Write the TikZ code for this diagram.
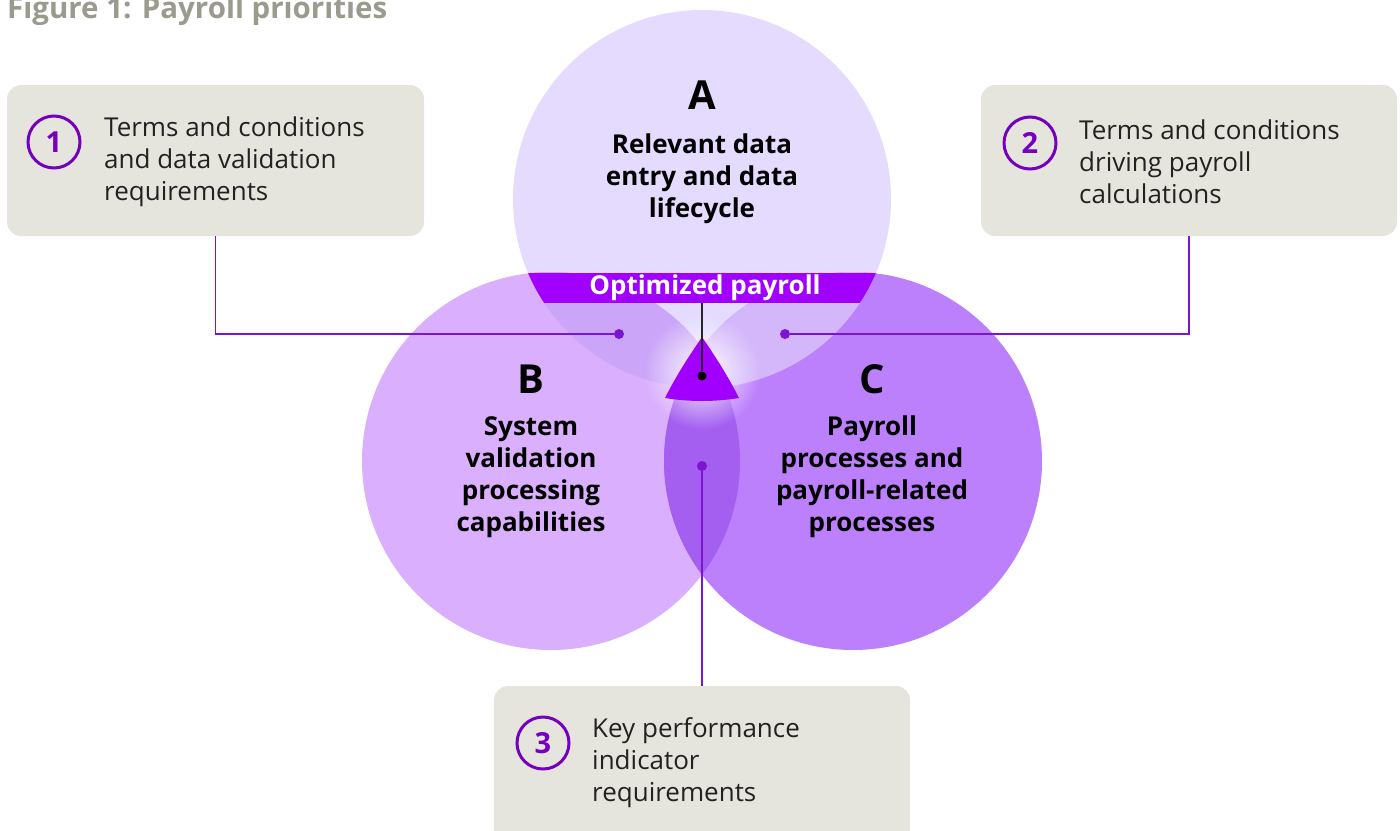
\documentclass[tikz,border=0pt]{standalone}
\usepackage{fontspec}
\setmainfont{Open Sans}
\usetikzlibrary{fadings}
\definecolor{cA}{HTML}{E4DBFF}
\definecolor{cB}{HTML}{DAB0FE}
\definecolor{cC}{HTML}{BD80FD}
\definecolor{cAB}{HTML}{CBA6F8}
\definecolor{cAC}{HTML}{D4B6FB}
\definecolor{cBC}{HTML}{A45EF0}
\definecolor{cABC}{HTML}{D8C2FA}
\definecolor{band}{HTML}{A100FF}
\definecolor{numpurple}{HTML}{7500C0}
\definecolor{connpurple}{HTML}{7D14D2}
\definecolor{boxfill}{HTML}{E6E5DD}
\definecolor{titlegray}{HTML}{9A9A8E}
\definecolor{bodytext}{HTML}{222222}
\tikzfading[name=glowfade, inner color=transparent!0, outer color=transparent!100]
\tikzset{
  box/.style={fill=boxfill, rounded corners=14pt, inner sep=0pt},
  numc/.style={circle, draw=numpurple, line width=3pt, minimum size=52pt, inner sep=0pt,
    text=numpurple, font=\fontsize{29}{29}\selectfont\bfseries},
  bodytxt/.style={anchor=west, align=left, inner sep=0pt, text=bodytext,
    font=\fontsize{26}{32}\selectfont},
  lettertxt/.style={inner sep=0pt, font=\fontsize{40}{40}\selectfont\bfseries},
  labeltxt/.style={inner sep=0pt, align=center, font=\fontsize{26}{32}\selectfont\bfseries},
  conn/.style={draw=connpurple, line width=1.6pt},
  pdot/.style={circle, fill=connpurple, minimum size=10pt, inner sep=0pt},
  bdot/.style={circle, fill=black, minimum size=10pt, inner sep=0pt},
}
\begin{document}
\begin{tikzpicture}[x=1pt,y=-1pt]
\useasboundingbox (0,0) rectangle (1400,830);
\clip (0,0) rectangle (1400,830);

% title
\node[anchor=base west, inner sep=0pt, text=titlegray, font=\fontsize{29.5}{30}\selectfont\bfseries] (title) at (7,18) {Figure 1: Payroll priorities};

% circles
\coordinate (A) at (702,199);
\coordinate (B) at (551,461);
\coordinate (C) at (853,461);
\fill[cA] (A) circle[radius=189pt];
\fill[cB] (B) circle[radius=189pt];
\fill[cC] (C) circle[radius=189pt];
\begin{scope}
  \clip (A) circle[radius=189pt];
  \fill[cAB] (B) circle[radius=189pt];
  \fill[cAC] (C) circle[radius=189pt];
\end{scope}
\begin{scope}
  \clip (B) circle[radius=189pt];
  \fill[cBC] (C) circle[radius=189pt];
\end{scope}
\begin{scope}
  \clip (A) circle[radius=189pt];
  \clip (B) circle[radius=189pt];
  \fill[cABC] (C) circle[radius=189pt];
\end{scope}

% glow
\fill[white, path fading=glowfade, fill opacity=0.95] (702,372) circle[radius=58pt];

% optimized payroll band
\begin{scope}
  \clip (A) circle[radius=189pt];
  \fill[band] (500,273) rectangle (900,303);
\end{scope}
\node[inner sep=0pt, minimum height=30pt, text=white, font=\fontsize{26}{26}\selectfont\bfseries] (opt) at (705,288) {Optimized payroll};

% center triangle
\fill[band] (702,337) .. controls (689,356) and (676,376) .. (665,398)
  .. controls (690,402) and (714,402) .. (739,398)
  .. controls (728,376) and (715,356) .. (702,337) -- cycle;
\node[bdot, minimum size=9pt] (d0) at (702,376) {};
\draw[black!85, line width=1.6pt] (702,303) -- (d0);

% circle texts
\node[lettertxt] (la) at (702,95) {A};
\node[labeltxt] (ta) at (702,179) {Relevant data\\entry and data\\lifecycle};
\node[lettertxt] (lb) at (531,379) {B};
\node[labeltxt] (tb) at (531,477) {System\\validation\\processing\\capabilities};
\node[lettertxt] (lc) at (872,379) {C};
\node[labeltxt] (tc) at (872,477) {Payroll\\processes and\\payroll-related\\processes};

% boxes
\node[box, minimum width=417pt, minimum height=151pt] (box1) at (215.5,160.5) {};
\node[box, minimum width=416pt, minimum height=151pt] (box2) at (1189,160.5) {};
\node[box, minimum width=416pt, minimum height=180pt] (box3) at (702,776) {};

\node[numc] (n1) at (54,142) {1};
\node[bodytxt] (t1) at (104,162) {Terms and conditions\\and data validation\\requirements};
\node[numc] (n2) at (1030,143) {2};
\node[bodytxt] (t2) at (1079,162) {Terms and conditions\\driving payroll\\calculations};
\node[numc] (n3) at (543,743) {3};
\node[bodytxt] (t3) at (592,763) {Key performance\\indicator\\requirements};

% dots and connectors
\node[pdot] (d1) at (619,334) {};
\node[pdot] (d2) at (785,334) {};
\node[pdot] (d3) at (702,466) {};
\draw[conn] (box1.south) |- (d1);
\draw[conn] (box2.south) |- (d2);
\draw[conn] (d3) -- (box3.north);
\end{tikzpicture}
\end{document}
